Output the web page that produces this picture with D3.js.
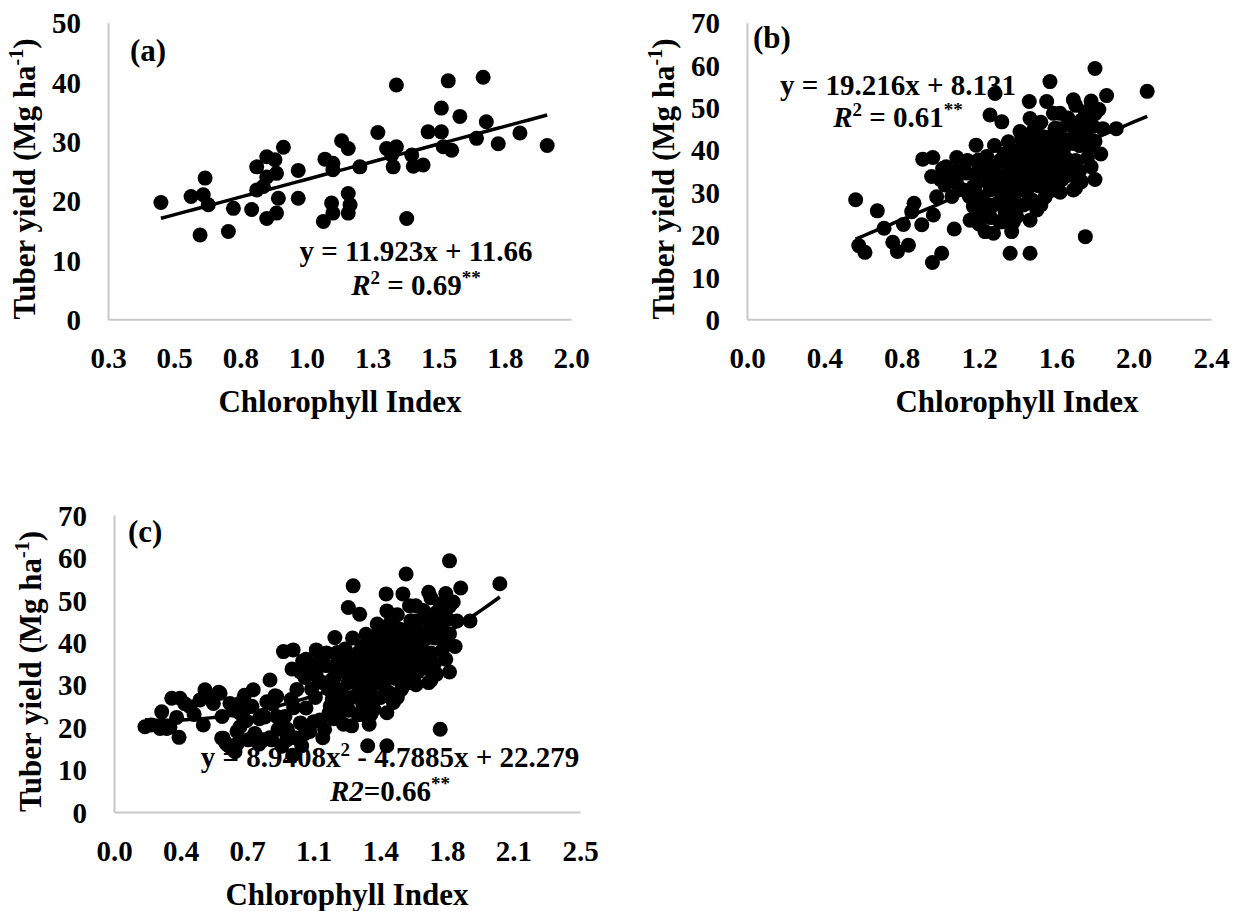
<!DOCTYPE html>
<html>
<head>
<meta charset="utf-8">
<script src="https://cdn.jsdelivr.net/npm/d3@7"></script>
<style>
  body { margin: 0; background: #fff; }
  svg text { font-family: "Liberation Serif", "Times New Roman", serif; font-weight: bold; fill: #000; }
</style>
</head>
<body>
<svg id="fig" width="1245" height="911"></svg>
<script>
// ---- Panel (a): chlorophyll index vs tuber yield ----
const aChl = [0.45,0.564,0.617,0.61,0.629,0.598,0.705,0.724,0.793,0.812,0.85,0.881,0.913,0.812,0.837,0.85,0.887,0.894,0.887,0.85,
  0.969,0.969,1.07,1.10,1.10,1.133,1.158,1.202,1.095,1.064,1.10,1.158,1.165,1.158,1.27,1.34,1.303,1.34,1.322,1.328,
  1.379,1.398,1.404,1.441,1.46,1.51,1.51,1.536,1.517,1.549,1.58,1.668,1.68,1.643,1.725,1.807,1.91];
const aYield = [19.7,20.7,23.8,21.0,19.3,14.2,14.8,18.7,18.5,25.7,27.4,26.9,29.0,21.8,22.4,24.0,24.6,20.4,17.9,17.0,
  25.1,20.4,27.0,26.3,25.2,30.1,28.8,25.7,19.6,16.5,17.9,21.2,19.3,17.9,31.5,39.5,28.8,29.1,27.7,25.7,
  17.0,27.7,25.8,26.0,31.6,31.6,35.6,40.2,29.1,28.5,34.2,40.8,33.3,30.5,29.6,31.4,29.3];

// ---- Panel (b) ----
const bChl = [0.562,0.674,0.578,0.61,0.709,0.754,0.778,0.835,0.809,0.864,0.852,0.904,0.964,0.981,1.007,0.959,1.072,0.909,0.961,0.955,
  1.024,1.085,1.012,1.185,1.137,1.197,1.188,1.154,1.188,1.231,1.275,1.275,1.257,1.309,1.283,1.257,1.318,1.305,1.352,1.378,
  1.369,1.361,1.464,1.46,1.464,1.352,1.412,1.404,1.499,1.55,1.567,1.585,1.542,1.473,1.499,1.447,1.464,1.395,1.343,1.335,
  1.378,1.567,1.585,1.55,1.585,1.525,1.447,1.481,1.378,1.274,1.24,1.102,1.059,1.085,1.171,1.205,1.222,1.171,1.309,1.43,
  1.412,1.326,1.619,1.688,1.593,1.533,1.654,1.688,1.628,1.55,1.395,
  1.80,1.86,1.78,1.80,1.76,1.84,1.91,1.80,1.76,1.83,1.72,1.80,1.75,2.07,1.70,1.72,1.65,1.70,1.66,1.62,1.74,1.68,1.75,1.77,1.62,1.60,
  1.35,1.42,1.45,1.48,1.52,1.50,1.38,1.44,1.56,1.60,1.52,1.47,1.41,1.33,1.28,1.25,1.20,1.15,1.12,1.06,1.30,1.36,1.32,
  1.42,1.46,1.49,1.53,1.57,1.61,1.64,1.67,1.70,1.73,1.58,1.54,1.51,1.47,1.44,1.40,1.37,1.34,1.31,1.28,
  1.22,1.18,1.14,1.09,1.03,1.00,1.23,1.26,1.20,1.34,1.39,1.45,1.52,1.62,1.66,1.71,1.78,1.82,1.79,1.76,
  1.73,1.69,1.63,1.59,1.48,1.43,1.36,1.30,1.26];
const bYield = [28.2,25.6,17.4,15.8,21.5,18.2,16.0,17.5,22.4,27.4,25.4,22.3,24.6,28.9,15.6,13.4,21.3,37.8,38.2,33.7,
  31.7,38.2,35.6,41.1,34.5,37.6,33.7,23.4,25.4,20.7,20.3,27.0,30.5,30.1,53.3,48.2,46.6,33.7,36.0,23.0,
  20.7,15.6,15.6,51.4,47.4,41.9,44.3,39.6,43.9,51.4,56.1,48.6,28.9,28.2,25.8,30.1,23.4,30.1,30.9,25.4,
  27.4,40.7,36.0,32.9,30.5,34.5,37.6,33.7,33.7,34.5,38.4,36.0,34.5,32.1,31.3,28.9,25.0,26.6,23.0,27.0,
  32.9,32.5,48.6,51.8,45.1,43.1,42.3,30.5,33.7,29.7,24.2,
  59.2,52.8,51.5,48.5,46.0,45.0,45.0,42.0,38.0,39.0,35.0,33.0,19.5,53.8,50.5,41.0,38.0,31.0,36.5,39.5,43.5,45.5,49.0,40.5,30.0,34.0,
  38.5,40.5,42.0,39.0,37.5,41.0,37.0,35.0,38.5,42.5,46.5,36.0,36.5,39.0,36.0,32.5,35.5,29.0,30.5,29.0,27.5,28.5,23.0,
  42.5,40.0,37.0,40.0,43.0,36.5,40.5,34.0,37.5,32.5,31.5,36.0,31.5,33.0,30.5,34.5,31.5,34.0,37.5,41.0,
  36.5,31.5,37.5,35.0,36.0,33.0,27.5,24.0,22.5,28.0,26.0,27.5,27.0,45.0,47.5,44.0,36.0,49.5,45.5,43.0,
  47.0,41.5,33.0,38.0,44.5,38.0,40.0,32.0,34.0];

// ---- Panel (c): pooled data = panel (b) observations plus these ----
const cExtraChl = [0.166,0.247,0.283,0.256,0.31,0.354,0.336,0.349,0.408,0.461,0.488,0.479,0.569,0.533,0.622,0.586,0.622,0.649,0.676,0.694,
  0.747,0.74,0.676,0.756,0.801,0.837,0.846,0.873,0.873,0.926,0.917,1.025,1.105,0.60,0.66,0.93,1.00,1.05,1.12,1.18,
  0.20,0.30,0.38,0.43,0.52,0.58,0.64,0.70,0.78,0.82,0.88,0.95,0.90,0.97,1.03,1.08,1.13,1.16,0.72,0.66];
const cExtraYield = [20.1,19.7,19.7,23.6,26.8,26.8,22.3,17.6,24.8,26.4,28.8,20.5,28.0,25.6,25.6,17.4,15.4,14.2,23.3,25.6,
  28.8,24.9,20.1,18.5,17.0,31.1,17.0,27.2,22.5,17.0,22.5,18.5,21.7,16.2,19.0,19.5,21.0,19.0,17.5,22.0,
  20.5,20.0,25.5,23.0,27.0,22.5,24.0,27.5,22.0,26.0,19.5,26.5,15.5,17.5,24.5,27.0,19.5,25.0,17.0,16.0];

// Fitted equations (coefficients highest power first)
const aFit = [11.923, 11.66];
const bFit = [19.216, 8.131];
const cFit = [8.9408, -4.7885, 22.279];

// Axis ticks and their printed labels
const aXTicks = [0.25, 0.5, 0.75, 1.0, 1.25, 1.5, 1.75, 2.0];
const aXLabels = ["0.3", "0.5", "0.8", "1.0", "1.3", "1.5", "1.8", "2.0"];
const aYTicks = [0, 10, 20, 30, 40, 50];
const bXTicks = [0, 0.4, 0.8, 1.2, 1.6, 2.0, 2.4];
const bXLabels = ["0.0", "0.4", "0.8", "1.2", "1.6", "2.0", "2.4"];
const bYTicks = [0, 10, 20, 30, 40, 50, 60, 70];
const cXTicks = [0, 2.5/7, 5/7, 7.5/7, 10/7, 12.5/7, 15/7, 2.5];
const cXLabels = ["0.0", "0.4", "0.7", "1.1", "1.4", "1.8", "2.1", "2.5"];
const cYTicks = [0, 10, 20, 30, 40, 50, 60, 70];

const svg = d3.select("#fig");
const AXIS_COLOR = "#c8c8c8";

function poly(coef, x) {
  return coef.reduce((acc, c) => acc * x + c, 0);
}

// Writes text runs; "sup" runs are raised and smaller, "after" drops back to the baseline
function addRuns(textSel, runs) {
  runs.forEach(r => {
    const t = textSel.append("tspan").text(r.t);
    if (r.italic) t.style("font-style", "italic");
    if (r.sup) {
      t.attr("dy", -11).style("font-size", "19px");
    } else if (r.after) {
      t.attr("dy", 11);
    }
  });
}

function drawPanel(p) {
  const g = svg.append("g");
  const x = d3.scaleLinear().domain(p.xDomain).range([p.left, p.right]);
  const y = d3.scaleLinear().domain(p.yDomain).range([p.bottom, p.top]);

  // axes: light grey lines with no tick marks
  const xAxis = d3.axisBottom(x).tickValues(p.xTicks).tickSize(0)
    .tickFormat((d, i) => p.xLabels[i]).tickPadding(28);
  const yAxis = d3.axisLeft(y).tickValues(p.yTicks).tickSize(0)
    .tickFormat(d3.format("d")).tickPadding(27);

  const gx = g.append("g").attr("transform", `translate(0,${p.bottom})`).call(xAxis);
  const gy = g.append("g").attr("transform", `translate(${p.left},0)`).call(yAxis);
  [gx, gy].forEach(a => {
    a.select(".domain").attr("stroke", AXIS_COLOR).attr("stroke-width", 2);
    a.selectAll("text").style("font-size", "29px")
      .style("font-family", '"Liberation Serif", "Times New Roman", serif')
      .style("font-weight", "bold").attr("fill", "#000");
  });
  gy.selectAll("text").attr("dy", "0.35em");

  // scatter points
  const pts = d3.zip(p.xs, p.ys);
  g.append("g").selectAll("circle").data(pts).join("circle")
    .attr("cx", d => x(d[0])).attr("cy", d => y(d[1])).attr("r", 7.5).attr("fill", "#000");

  // fitted line across the observed range
  const [xmin, xmax] = d3.extent(p.xs);
  const xsLine = d3.range(0, 61).map(i => xmin + (xmax - xmin) * i / 60);
  g.append("path").datum(xsLine)
    .attr("fill", "none").attr("stroke", "#000").attr("stroke-width", 3.5)
    .attr("d", d3.line().x(d => x(d)).y(d => y(poly(p.fit, d))));

  // panel letter
  g.append("text").attr("x", p.letterX).attr("y", p.letterY)
    .style("font-size", "31px").text(p.letter);

  // equation and R-squared
  const eq = g.append("text").attr("x", p.eqX).attr("y", p.eqY)
    .attr("text-anchor", "middle").style("font-size", "29px");
  addRuns(eq, p.eqRuns);
  const r2 = g.append("text").attr("x", p.eqX).attr("y", p.eqY + p.eqGap)
    .attr("text-anchor", "middle").style("font-size", "29px");
  addRuns(r2, p.r2Runs);

  // axis titles
  g.append("text").attr("x", p.xTitleX).attr("y", p.bottom + 93)
    .attr("text-anchor", "middle").style("font-size", "31px").text("Chlorophyll Index");
  const yt = g.append("text")
    .attr("transform", `translate(${p.left - 73},${(p.top + p.bottom) / 2 + 8}) rotate(-90)`)
    .attr("text-anchor", "middle").style("font-size", "31px");
  yt.append("tspan").text("Tuber yield (Mg ha");
  yt.append("tspan").text("-1").attr("dy", -12).style("font-size", "20px");
  yt.append("tspan").text(")").attr("dy", 12);
}

drawPanel({
  left: 108, right: 571, top: 22.7, bottom: 319.3,
  xDomain: [0.25, 2.0], yDomain: [0, 50],
  xTicks: aXTicks, xLabels: aXLabels, yTicks: aYTicks,
  xs: aChl, ys: aYield, fit: aFit,
  letter: "(a)", letterX: 130, letterY: 61,
  eqX: 416, eqY: 261, eqGap: 34,
  eqRuns: [{t: "y = 11.923x + 11.66"}],
  r2Runs: [{t: "R", italic: true}, {t: "2", sup: true}, {t: " = 0.69", after: true}, {t: "**", sup: true}],
  xTitleX: 340
});

drawPanel({
  left: 747, right: 1211, top: 22.7, bottom: 319.3,
  xDomain: [0, 2.4], yDomain: [0, 70],
  xTicks: bXTicks, xLabels: bXLabels, yTicks: bYTicks,
  xs: bChl, ys: bYield, fit: bFit,
  letter: "(b)", letterX: 753, letterY: 48,
  eqX: 898, eqY: 95, eqGap: 32,
  eqRuns: [{t: "y = 19.216x + 8.131"}],
  r2Runs: [{t: "R", italic: true}, {t: "2", sup: true}, {t: " = 0.61", after: true}, {t: "**", sup: true}],
  xTitleX: 1017
});

drawPanel({
  left: 114, right: 580, top: 515, bottom: 812,
  xDomain: [0, 2.5], yDomain: [0, 70],
  xTicks: cXTicks, xLabels: cXLabels, yTicks: cYTicks,
  xs: bChl.concat(cExtraChl), ys: bYield.concat(cExtraYield), fit: cFit,
  letter: "(c)", letterX: 128, letterY: 542,
  eqX: 390, eqY: 767, eqGap: 34,
  eqRuns: [{t: "y = 8.9408x"}, {t: "2", sup: true}, {t: " - 4.7885x + 22.279", after: true}],
  r2Runs: [{t: "R2", italic: true}, {t: "=0.66"}, {t: "**", sup: true}],
  xTitleX: 347
});
</script>
</body>
</html>
